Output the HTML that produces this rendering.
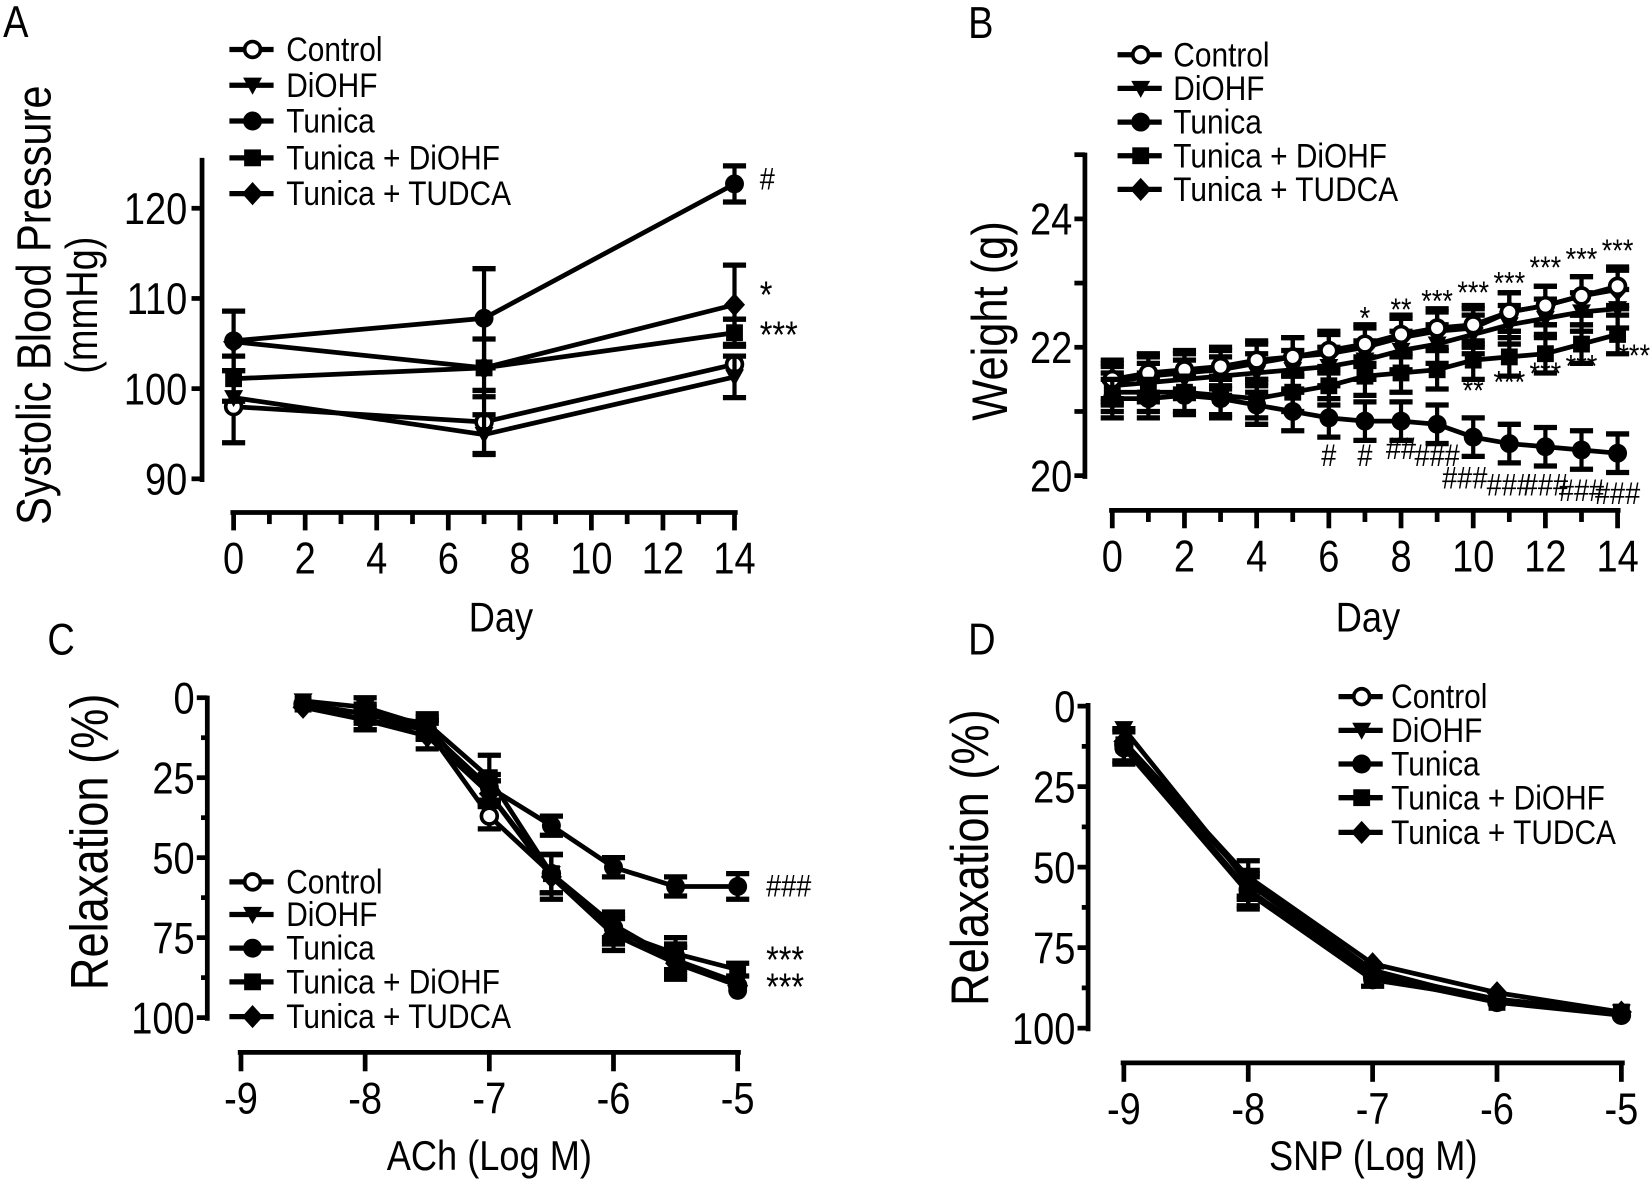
<!DOCTYPE html>
<html><head><meta charset="utf-8">
<style>
html,body{margin:0;padding:0;background:#fff;}
svg{display:block;}
text{font-family:"Liberation Sans",Arial,sans-serif;fill:#000;}
</style></head>
<body>
<svg id="s" width="1650" height="1186" viewBox="0 0 1568 1127" preserveAspectRatio="none" xmlns="http://www.w3.org/2000/svg">
<rect width="1568" height="1127" fill="#fff"/>
<g id="g"></g>
</svg>
<script>
var g=document.getElementById('g'),NS='http://www.w3.org/2000/svg';
function el(t,a,txt){var e=document.createElementNS(NS,t);for(var k in a)e.setAttribute(k,a[k]);if(txt!=null)e.textContent=txt;g.appendChild(e);return e;}
function T(x,y,s,size,anchor,rot,fill){var tr='translate('+x+','+y+')'+(rot?' rotate(-90)':'')+' scale(0.86,1)';
 var a={transform:tr,'font-size':size,'text-anchor':anchor||'start'};if(fill)a.fill=fill;el('text',a,s);}
function line(x1,y1,x2,y2,w){el('line',{x1:x1,y1:y1,x2:x2,y2:y2,stroke:'#000','stroke-width':w||4});}
function marker(type,x,y,s){s=s||9;
 if(type==0){el('circle',{cx:x,cy:y,r:s-1.5,fill:'#fff',stroke:'#000','stroke-width':3.5});}
 else if(type==1){el('polygon',{points:(x-s)+','+(y-s*0.8)+' '+(x+s)+','+(y-s*0.8)+' '+x+','+(y+s*1.0),fill:'#000'});}
 else if(type==2){el('circle',{cx:x,cy:y,r:s,fill:'#000'});}
 else if(type==3){el('rect',{x:x-s+1,y:y-s+1,width:2*s-2,height:2*s-2,fill:'#000'});}
 else {el('polygon',{points:x+','+(y-s-2)+' '+(x+s+1)+','+y+' '+x+','+(y+s+2)+' '+(x-s-1)+','+y,fill:'#000'});}
}
function legend(x,ys,tx){var n=['Control','DiOHF','Tunica','Tunica + DiOHF','Tunica + TUDCA'];
 for(var i=0;i<5;i++){line(x-22,ys[i],x+20,ys[i],5);marker(i,x,ys[i],9);T(tx,ys[i]+11,n[i],33);}}
function series(X,Y,xs,ys,err,type,sw){var pts=[];for(var i=0;i<xs.length;i++)pts.push(X(xs[i])+','+Y(ys[i]));
 el('polyline',{points:pts.join(' '),fill:'none',stroke:'#000','stroke-width':sw||4.5});
 for(var i=0;i<xs.length;i++){var x=X(xs[i]);if(err){var e=err[i];if(e){line(x,Y(ys[i]-e),x,Y(ys[i]+e),4);line(x-11,Y(ys[i]-e),x+11,Y(ys[i]-e),5);line(x-11,Y(ys[i]+e),x+11,Y(ys[i]+e),5);}}marker(type,x,Y(ys[i]),9);}}

T(3,35,'A',42);T(920,36,'B',42);T(45,622,'C',42);T(920,622,'D',42);
T(476,600,'Day',40,'middle');T(1300,600,'Day',40,'middle');
T(465,1112,'ACh (Log M)',40,'middle');T(1305,1112,'SNP (Log M)',40,'middle');
T(48,290,'Systolic Blood Pressure',46,'middle',1);T(92,290,'(mmHg)',42,'middle',1);
T(957,305,'Weight (g)',48,'middle',1);
T(102,800,'Relaxation (%)',50,'middle',1);T(939,815,'Relaxation (%)',50,'middle',1);

/* Panel A */
(function(){var ax=192,X=function(d){return 222+d*34;},Y=function(v){return 455-(v-90)*8.57;};
 line(ax,150,ax,458,4.5);
 [90,100,110,120].forEach(function(v){line(ax-10,Y(v),ax,Y(v),4.5);T(ax-14,Y(v)+15,v,42,'end');});
 line(219,487,701,487,4.5);
 for(var d=0;d<=14;d++){line(X(d),487,X(d),d%2==0?504:498,4.5);if(d%2==0)T(X(d),545,d,42,'middle');}
 var xs=[0,7,14];
 series(X,Y,xs,[98,96.3,102.7],[4,3.5,0],0);
 series(X,Y,xs,[99,94.9,101.3],[0,2.2,2.3],1);
 series(X,Y,xs,[101.1,102.3,106.2],[2.5,3.2,1.5],3);
 series(X,Y,xs,[105.2,102.3,109.3],[0,0,4.4],4);
 series(X,Y,xs,[105.3,107.8,122.7],[3.3,5.5,2],2);
 T(722,180,'#',30);
 T(722,292,'*',36);
 T(722,330,'***',36);
 legend(240,[47,81,115,150,184],272);
})();

/* Panel B */
(function(){var ax=1031,X=function(d){return 1057+d*34.3;},Y=function(v){return 452-(v-20)*61;};
 line(ax,145,ax,455,4.5);
 [20,21,22,23,24,25].forEach(function(v){line(ax-10,Y(v),ax,Y(v),4.5);if(v%2==0)T(ax-12,Y(v)+15,v,42,'end');});
 line(1054,485,1540,485,4.5);
 for(var d=0;d<=14;d++){line(X(d),485,X(d),d%2==0?502:496,4.5);if(d%2==0)T(X(d),543,d,42,'middle');}
 var xs=[];for(var d=0;d<=14;d++)xs.push(d);
 var e=xs.map(function(){return 0.3;});
 series(X,Y,xs,[21.3,21.3,21.3,21.25,21.2,21.3,21.4,21.55,21.6,21.65,21.8,21.85,21.9,22.05,22.2],e,3);
 series(X,Y,xs,[21.4,21.45,21.5,21.55,21.6,21.65,21.7,21.8,21.95,22.05,22.2,22.35,22.45,22.55,22.6],e,1);
 series(X,Y,xs,[21.45,21.55,21.6,21.65,21.75,21.85,21.9,22.0,22.15,22.25,22.3,22.55,22.65,22.8,22.9],e,4);
 series(X,Y,xs,[21.5,21.6,21.65,21.7,21.8,21.85,21.95,22.05,22.2,22.3,22.35,22.55,22.65,22.8,22.95],e,0);
 series(X,Y,xs,[21.2,21.2,21.25,21.2,21.1,21.0,20.9,20.85,20.85,20.8,20.6,20.5,20.45,20.4,20.35],e,2);
 function t(x,y,s){T(x,y+6,s,30,'middle',0,'#333');}
 t(X(7),306,'*');t(X(8),298,'**');t(X(9),290,'***');t(X(10),282,'***');t(X(11),273,'***');t(X(12),258,'***');t(X(13),250,'***');t(X(14),242,'***');
 t(X(10),375,'**');t(X(11),367,'***');t(X(12),359,'***');t(X(13),352,'***');t(1553,342,'***');
 t(X(6),437,'#');t(X(7),437,'#');t(X(8),430,'##');t(X(9),437,'###');t(X(10)-8,458,'###');t(X(11),465,'###');t(X(12),465,'###');t(X(13),470,'###');t(X(14),473,'###');
 legend(1084,[52,84,116,148,180],1115);
})();

/* Panel C */
(function(){var ax=197,X=function(v){return 229+(v+9)*118;},Y=function(p){return 663+p*3.04;};
 line(ax,661,ax,970,4.5);
 [0,12.5,25,37.5,50,62.5,75,87.5,100].forEach(function(v,i){line(ax-(i%2?6:10),Y(v),ax,Y(v),4.5);if(i%2==0)T(ax-12,Y(v)+15,v,42,'end');});
 line(226,1000,704,1000,4.5);
 [-9,-8,-7,-6,-5].forEach(function(v){line(X(v),1000,X(v),1018,4.5);T(X(v),1058,v,42,'middle');});
 var xs=[-8.5,-8,-7.5,-7,-6.5,-6,-5.5,-5];
 series(X,Y,xs,[2,7,10,37,55,72,82,90],[0,3,3,4,6,4,4,0],0);
 series(X,Y,xs,[1,3,9,30,55,71,82,89],[0,3,3,4,6,4,5,0],1);
 series(X,Y,xs,[2,5,8,25,55,73,80,85],[0,3,3,7,6,4,5,2],3);
 series(X,Y,xs,[3,7,12,30,56,74,83,90],[0,3,4,4,7,5,5,0],4);
 series(X,Y,xs,[2,5,10,28,40,53,59,59],[0,2,3,4,3,3,3,4],2);
 series(X,Y,[-5],[91.5],null,2);
 T(728,852,'###',30);
 T(728,924,'***',36);
 T(728,950,'***',36);
 legend(240,[838,869,901,933,966],272);
})();

/* Panel D */
(function(){var ax=1034,X=function(v){return 1068+(v+9)*118.2;},Y=function(p){return 671+p*3.06;};
 line(ax,668,ax,980,4.5);
 [0,12.5,25,37.5,50,62.5,75,87.5,100].forEach(function(v,i){line(ax-(i%2?6:10),Y(v),ax,Y(v),4.5);if(i%2==0)T(ax-12,Y(v)+15,v,42,'end');});
 line(1065,1010,1544,1010,4.5);
 [-9,-8,-7,-6,-5].forEach(function(v){line(X(v),1010,X(v),1028,4.5);T(X(v),1068,v,42,'middle');});
 var xs=[-9,-8,-7,-6,-5];
 series(X,Y,xs,[12,57,84,92,96],[5,5,3,0,0],0);
 series(X,Y,xs,[7,55,83,91,95],[0,4,0,0,0],1);
 series(X,Y,xs,[13,58,85,91,96],[5,5,0,0,0],2);
 series(X,Y,xs,[12,54,82,92,95],[0,6,0,0,0],3);
 series(X,Y,xs,[11,53,80,89,95],[0,0,0,0,0],4);
 legend(1294,[662,694,726,758,791],1322);
})();
</script>
</body></html>
